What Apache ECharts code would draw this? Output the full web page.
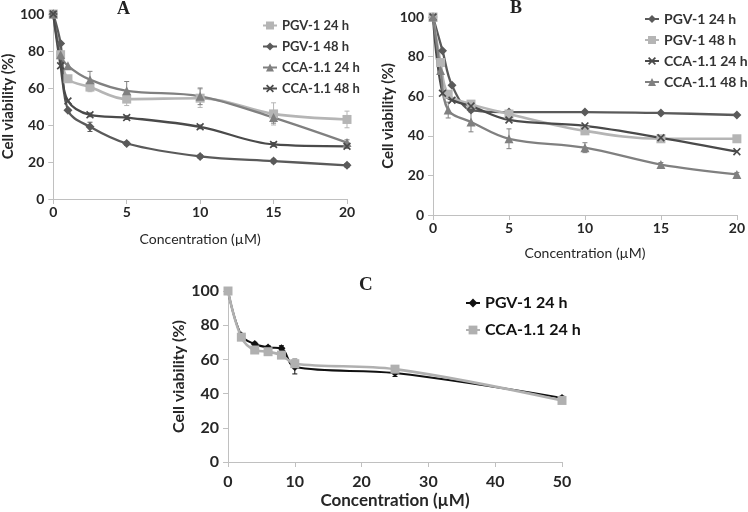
<!DOCTYPE html>
<html><head><meta charset="utf-8">
<script src="https://cdn.jsdelivr.net/npm/echarts@6/dist/echarts.min.js"></script>
<style>html,body{margin:0;padding:0;background:#fff}#c{width:748px;height:512px}</style>
</head><body><div id="c"></div>
<script>
// ---------- Panel A ----------
const aX = [0, 0.5, 1, 2.5, 5, 10, 15, 20];
const aPGV24 = [100, 78, 65, 60.5, 54, 54.5, 46, 43];
const aPGV24Err = [0, 0, 0, 2.5, 3.5, 5, 6, 4.5];
const aPGV48 = [100, 84, 48, 39, 30, 23, 20.5, 18.2];
const aPGV48Err = [0, 0, 0, 2.5, 1, 1, 1, 1];
const aCCA24 = [100, 78, 72, 64.5, 58.5, 55.5, 44, 30.5];
const aCCA24Err = [0, 0, 0, 4.5, 5, 4.5, 3, 1.5];
const aCCA48 = [100, 72, 53, 45.5, 44, 39, 29.5, 28.5];
const aCCA48Err = [0, 0, 0, 1, 1, 1, 1, 1];
// ---------- Panel B ----------
const bX = [0, 0.625, 1.25, 2.5, 5, 10, 15, 20];
const bPGV24 = [100, 83, 65.5, 53, 52, 52, 51.5, 50.5];
const bPGV48X = [0, 0.5, 1, 2.5, 5, 10, 15, 20];
const bPGV48 = [100, 77, 61, 56, 51, 42.5, 38.5, 38.5];
const bCCA24 = [100, 61.5, 58, 55, 48, 45, 39, 32];
const bCCA48X = [0, 0.5, 1, 2.5, 5, 10, 15, 20];
const bCCA48 = [100, 73, 53, 47, 38.5, 34, 25.5, 20.5];
const bCCA48Err = [0, 0, 4, 5, 5, 2.5, 1, 1];
// ---------- Panel C ----------
const cX = [0, 2, 4, 6, 8, 10, 25, 50];
const cPGV24 = [100, 74, 69, 67, 66.5, 55.5, 52, 37.5];
const cPGV24Err = [0, 1, 1, 1, 1.5, 4, 2, 1];
const cCCA24 = [100, 73, 65.5, 64.5, 62.5, 57.5, 54.3, 36];
const cCCA24Err = [0, 1, 1, 1, 1.5, 3, 1, 1];

const xTicksAB = {min: 0, max: 20, interval: 5};
const yTicks = {min: 0, max: 100, interval: 20};
const xTicksC = {min: 0, max: 50, interval: 10};

const FONT = 'Lato';
const starPath = 'path://M0,1.5 L1.5,0 L5,3.5 L8.5,0 L10,1.5 L6.5,5 L10,8.5 L8.5,10 L5,6.5 L1.5,10 L0,8.5 L3.5,5 Z';

const zip = (xs, ys) => xs.map((x, i) => [x, ys[i]]);
const zip3 = (xs, ys, es) => xs.map((x, i) => [x, ys[i], es[i]]);

function lineSeries(name, xs, ys, color, symbol, size, gi, width) {
  return {
    type: 'line', name: name, xAxisIndex: gi, yAxisIndex: gi,
    data: zip(xs, ys), smooth: 0.35, symbol: symbol, symbolSize: size,
    lineStyle: {color: color, width: width || 2.3},
    itemStyle: {color: color}, z: 3
  };
}
function errSeries(xs, ys, es, color, gi) {
  return {
    type: 'custom', xAxisIndex: gi, yAxisIndex: gi, silent: true, z: 2,
    data: zip3(xs, ys, es).filter(d => d[2] > 0),
    encode: {x: 0, y: 1},
    renderItem: function (params, api) {
      const x = api.value(0), y = api.value(1), e = api.value(2);
      const hi = api.coord([x, y + e]), lo = api.coord([x, y - e]);
      const st = {stroke: color, lineWidth: 1};
      return {type: 'group', children: [
        {type: 'line', shape: {x1: hi[0], y1: hi[1], x2: lo[0], y2: lo[1]}, style: st},
        {type: 'line', shape: {x1: hi[0] - 2.5, y1: hi[1], x2: hi[0] + 2.5, y2: hi[1]}, style: st},
        {type: 'line', shape: {x1: lo[0] - 2.5, y1: lo[1], x2: lo[0] + 2.5, y2: lo[1]}, style: st}
      ]};
    }
  };
}

const axisLine = {show: true, lineStyle: {color: '#c0c0c0', width: 1}};
const axisTick = {show: true, length: 5, lineStyle: {color: '#c0c0c0'}};
function xAxis(gi, t, gap, labelSize, labelMargin, nameSize, nameWeight) {
  return {
    type: 'value', gridIndex: gi, min: t.min, max: t.max, interval: t.interval,
    axisLine: axisLine, axisTick: axisTick, splitLine: {show: false},
    name: 'Concentration (µM)', nameLocation: 'middle', nameGap: gap,
    axisLabel: {color: '#262626', fontFamily: FONT, fontWeight: 'bold', fontSize: labelSize, margin: labelMargin},
    nameTextStyle: {color: '#262626', fontFamily: FONT, fontSize: nameSize, fontWeight: nameWeight}
  };
}
function yAxis(gi, gap, labelSize, nameSize) {
  return {
    type: 'value', gridIndex: gi, min: yTicks.min, max: yTicks.max, interval: yTicks.interval,
    axisLine: axisLine, axisTick: axisTick, splitLine: {show: false},
    name: 'Cell viability (%)', nameLocation: 'middle', nameGap: gap,
    axisLabel: {color: '#262626', fontFamily: FONT, fontWeight: 'bold', fontSize: labelSize, margin: 9},
    nameTextStyle: {color: '#262626', fontFamily: FONT, fontSize: nameSize, fontWeight: 'bold'}
  };
}

const cA1 = '#b5b5b5', cA2 = '#5a5a5a', cA3 = '#808080', cA4 = '#4a4a4a';

const legendText = {color: '#333', fontFamily: FONT, fontWeight: 'bold', fontSize: 13};
const stripFmt = n => n.slice(2);

const option = {
  animation: false,
  grid: [
    {left: 50, top: 14, width: 297, height: 185},
    {left: 433, top: 17, width: 308, height: 198},
    {left: 228, top: 291, width: 334, height: 171}
  ],
  xAxis: [
    xAxis(0, xTicksAB, 33, 14, 6, 14, 'normal'),
    xAxis(1, xTicksAB, 31, 14, 6, 14, 'normal'),
    xAxis(2, xTicksC, 30, 16, 12, 17, 'bold')
  ],
  yAxis: [yAxis(0, 34, 14, 15), yAxis(1, 27, 14, 15), yAxis(2, 38, 16, 16)],
  legend: [
    {orient: 'vertical', left: 257, top: 14, itemGap: 8, itemWidth: 14, itemHeight: 10,
     data: ['A:PGV-1 24 h', 'A:PGV-1 48 h', 'A:CCA-1.1 24 h', 'A:CCA-1.1 48 h'],
     formatter: stripFmt, textStyle: legendText},
    {orient: 'vertical', left: 639, top: 7, itemGap: 7, itemWidth: 14, itemHeight: 10,
     data: ['B:PGV-1 24 h', 'B:PGV-1 48 h', 'B:CCA-1.1 24 h', 'B:CCA-1.1 48 h'],
     formatter: stripFmt, textStyle: Object.assign({}, legendText, {fontSize: 14})},
    {orient: 'vertical', left: 460, top: 290, itemGap: 11, itemWidth: 14, itemHeight: 11,
     data: ['C:PGV-1 24 h', 'C:CCA-1.1 24 h'],
     formatter: stripFmt, textStyle: Object.assign({}, legendText, {color: '#111', fontSize: 16})}
  ],
  graphic: [
    {type: 'text', left: 117, top: 0, style: {text: 'A', font: 'bold 18px "Liberation Serif"', fill: '#222'}},
    {type: 'text', left: 510, top: -1, style: {text: 'B', font: 'bold 18px "Liberation Serif"', fill: '#222'}},
    {type: 'text', left: 359, top: 276, style: {text: 'C', font: 'bold 19px "Liberation Serif"', fill: '#222'}}
  ],
  series: [
    errSeries(aX, aPGV24, aPGV24Err, cA1, 0),
    errSeries(aX, aPGV48, aPGV48Err, cA2, 0),
    errSeries(aX, aCCA24, aCCA24Err, cA3, 0),
    errSeries(aX, aCCA48, aCCA48Err, cA4, 0),
    lineSeries('A:PGV-1 24 h', aX, aPGV24, cA1, 'rect', 9, 0, 2.6),
    lineSeries('A:PGV-1 48 h', aX, aPGV48, cA2, 'diamond', 9, 0),
    lineSeries('A:CCA-1.1 24 h', aX, aCCA24, cA3, 'triangle', 9, 0),
    lineSeries('A:CCA-1.1 48 h', aX, aCCA48, cA4, starPath, 8, 0),

    errSeries(bCCA48X, bCCA48, bCCA48Err, cA3, 1),
    lineSeries('B:PGV-1 24 h', bX, bPGV24, cA2, 'diamond', 9, 1),
    lineSeries('B:PGV-1 48 h', bPGV48X, bPGV48, cA1, 'rect', 9, 1, 2.6),
    lineSeries('B:CCA-1.1 24 h', bX, bCCA24, cA4, starPath, 8, 1),
    lineSeries('B:CCA-1.1 48 h', bCCA48X, bCCA48, cA3, 'triangle', 9, 1),

    errSeries(cX, cPGV24, cPGV24Err, '#111', 2),
    errSeries(cX, cCCA24, cCCA24Err, '#b0b0b0', 2),
    lineSeries('C:PGV-1 24 h', cX, cPGV24, '#111', 'diamond', 8, 2, 2),
    lineSeries('C:CCA-1.1 24 h', cX, cCCA24, '#b0b0b0', 'rect', 9, 2, 2.6)
  ]
};
const chart = echarts.init(document.getElementById('c'), null, {renderer: 'canvas'});
chart.setOption(option);
</script></body></html>
